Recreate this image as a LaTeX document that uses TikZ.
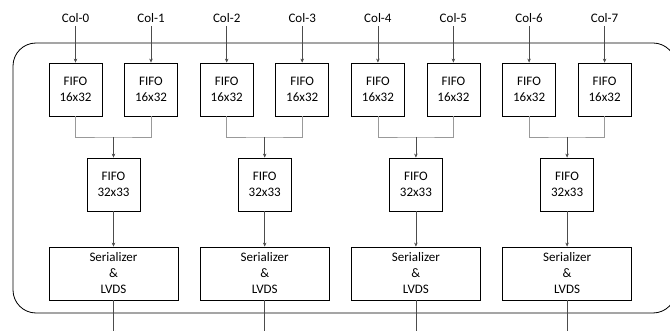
\documentclass[tikz,border=0pt]{standalone}
\usepackage{fontspec}
\setmainfont{Carlito}
\usetikzlibrary{
  arrows.meta,
  positioning,
}

\begin{document}
\begin{tikzpicture}[
  x=1pt, y=-1pt,
  font=\fontsize{13}{16}\selectfont,
  fifo/.style={draw, line width=0.8pt, minimum width=53pt, minimum height=53pt, inner sep=0pt, align=center},
  serbox/.style={fifo, minimum width=129pt},
  link/.style={draw=black!70, line width=0.5pt, -{Stealth[length=4pt,width=3.5pt]}},
  wire/.style={draw=black!40, line width=0.5pt},
]
  \useasboundingbox (0,0) rectangle (670,331);

  % Outer frame
  \draw[line width=0.8pt, rounded corners=23pt] (13,43) rectangle (676,313);

  % Column inputs
  \node (c0) at (75.5,18)  {Col-0};
  \node (c1) at (151,18)   {Col-1};
  \node (c2) at (226.7,18) {Col-2};
  \node (c3) at (302.2,18) {Col-3};
  \node (c4) at (377.9,18) {Col-4};
  \node (c5) at (453.4,18) {Col-5};
  \node (c6) at (529.1,18) {Col-6};
  \node (c7) at (604.6,18) {Col-7};

  % Input FIFOs
  \node[fifo] (f0) at (75.5,89.5)  {FIFO\\16x32};
  \node[fifo] (f1) at (151,89.5)   {FIFO\\16x32};
  \node[fifo] (f2) at (226.7,89.5) {FIFO\\16x32};
  \node[fifo] (f3) at (302.2,89.5) {FIFO\\16x32};
  \node[fifo] (f4) at (377.9,89.5) {FIFO\\16x32};
  \node[fifo] (f5) at (453.4,89.5) {FIFO\\16x32};
  \node[fifo] (f6) at (529.1,89.5) {FIFO\\16x32};
  \node[fifo] (f7) at (604.6,89.5) {FIFO\\16x32};

  % Merge points
  \coordinate (j0) at (113.5,137);
  \coordinate (j1) at (264.7,137);
  \coordinate (j2) at (415.9,137);
  \coordinate (j3) at (567.1,137);

  % Merged FIFOs
  \node[fifo] (m0) at (113.5,184.5) {FIFO\\32x33};
  \node[fifo] (m1) at (264.7,184.5) {FIFO\\32x33};
  \node[fifo] (m2) at (415.9,184.5) {FIFO\\32x33};
  \node[fifo] (m3) at (567.1,184.5) {FIFO\\32x33};

  % Serializers
  \node[serbox] (s0) at (113.5,273.5) {Serializer\\\&\\LVDS};
  \node[serbox] (s1) at (264.7,273.5) {Serializer\\\&\\LVDS};
  \node[serbox] (s2) at (415.9,273.5) {Serializer\\\&\\LVDS};
  \node[serbox] (s3) at (567.1,273.5) {Serializer\\\&\\LVDS};

  % Outputs
  \coordinate (o0) at (113.5,335);
  \coordinate (o1) at (264.7,335);
  \coordinate (o2) at (415.9,335);
  \coordinate (o3) at (567.1,335);

  % Connectors
  \draw[link] (c0) -- (f0);
  \draw[link] (c1) -- (f1);
  \draw[link] (c2) -- (f2);
  \draw[link] (c3) -- (f3);
  \draw[link] (c4) -- (f4);
  \draw[link] (c5) -- (f5);
  \draw[link] (c6) -- (f6);
  \draw[link] (c7) -- (f7);

  \draw[wire] (f0) |- (j0) -| (f1);
  \draw[wire] (f2) |- (j1) -| (f3);
  \draw[wire] (f4) |- (j2) -| (f5);
  \draw[wire] (f6) |- (j3) -| (f7);

  \draw[link] (j0) -- (m0);
  \draw[link] (j1) -- (m1);
  \draw[link] (j2) -- (m2);
  \draw[link] (j3) -- (m3);

  \draw[link] (m0) -- (s0);
  \draw[link] (m1) -- (s1);
  \draw[link] (m2) -- (s2);
  \draw[link] (m3) -- (s3);

  \draw[link] (s0) -- (o0);
  \draw[link] (s1) -- (o1);
  \draw[link] (s2) -- (o2);
  \draw[link] (s3) -- (o3);
\end{tikzpicture}
\end{document}
